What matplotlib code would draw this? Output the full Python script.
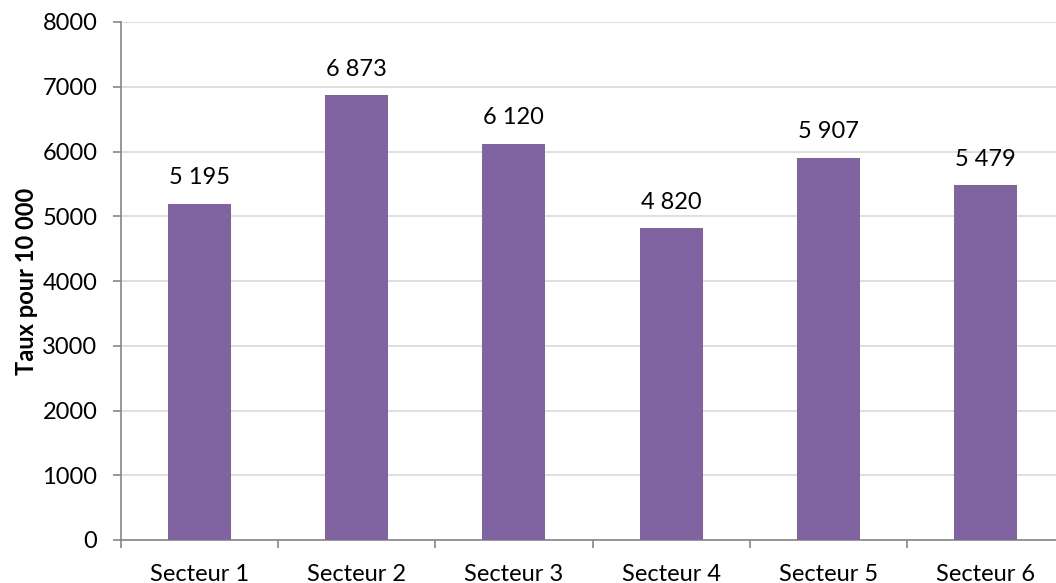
import matplotlib.pyplot as plt
import numpy as np

secteurs = ['Secteur 1', 'Secteur 2', 'Secteur 3', 'Secteur 4', 'Secteur 5', 'Secteur 6']
taux = [5195, 6873, 6120, 4820, 5907, 5479]
yticks = [0, 1000, 2000, 3000, 4000, 5000, 6000, 7000, 8000]

plt.rcParams['font.family'] = ['Lato', 'DejaVu Sans']

fig = plt.figure(figsize=(10.56, 5.83), dpi=100)
# the plot area runs a little past the right edge, as in the original
ax = fig.add_axes([121 / 1056, 43 / 583, 943 / 1056, 518 / 583])

x = np.arange(len(secteurs))
ax.bar(x, taux, width=0.4, color='#8064A2', zorder=3)

for xi, v in zip(x, taux):
    lab = f'{v:,}'.replace(',', ' ')
    ax.annotate(lab, (xi, v), xytext=(0, 11), textcoords='offset points',
                ha='center', va='bottom', fontsize=17)

ax.set_xlim(-0.5, len(secteurs) - 0.5)
ax.set_ylim(0, 8000)
ax.set_yticks(yticks)
ax.set_yticklabels([str(t) for t in yticks], fontsize=17)
ax.grid(axis='y', color='#D9D9D9', linewidth=1.2, zorder=0)

ax.set_xticks(np.arange(len(secteurs) + 1) - 0.5)
ax.set_xticklabels([])
ax.set_xticks(x, minor=True)
ax.set_xticklabels(secteurs, minor=True, fontsize=17)
ax.tick_params(axis='x', which='minor', length=0, pad=17)
ax.tick_params(axis='x', which='major', length=6, color='#868686', width=1.2)
ax.tick_params(axis='y', length=6, color='#868686', width=1.2, pad=11)

for s in ['top', 'right']:
    ax.spines[s].set_visible(False)
for s in ['left', 'bottom']:
    ax.spines[s].set_color('#868686')
    ax.spines[s].set_linewidth(1.2)

ax.set_ylabel('Taux pour 10 000', fontsize=17, fontweight='bold', labelpad=3)

fig.savefig('out.png', dpi=100)
